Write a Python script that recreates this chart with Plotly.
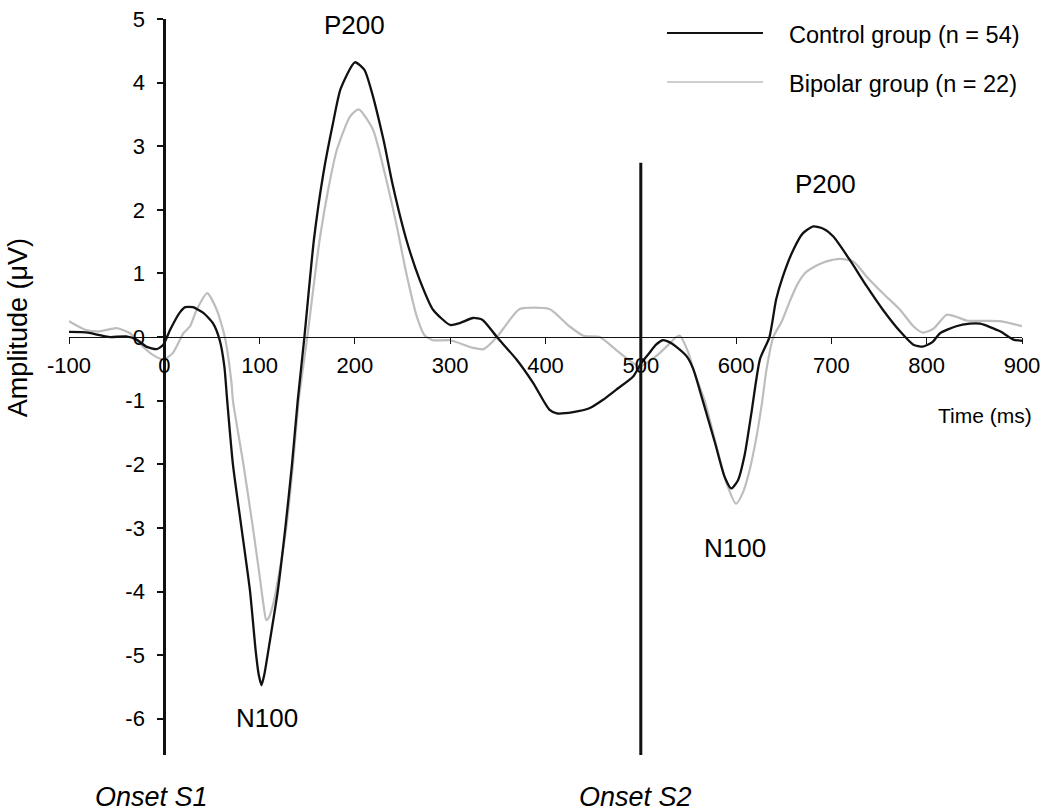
import plotly.graph_objects as go

# ---- data ----
t_control = [-100, -80, -68, -57, -40, -29, -19, -8, -1, 6, 16, 22, 30, 41, 51, 58, 63, 66, 72, 81,
             90, 96, 99, 102, 105, 110, 119, 127, 134, 140, 147, 157, 167, 177, 185, 200, 210, 217, 230,
             240, 254, 268, 282, 300, 310, 324, 334, 349, 370, 387, 404, 412, 429, 446, 460, 474,
             492, 500, 509, 516, 523, 530, 537, 548, 555, 565, 578, 588, 595, 602, 609, 616, 625,
             635, 642, 649, 660, 670, 681, 692, 702, 719, 737, 754, 772, 786, 796, 806, 814, 831,
             845, 856, 877, 891, 900]
v_control = [0.08, 0.07, 0.03, 0.0, 0.01, -0.04, -0.15, -0.19, -0.12, 0.11, 0.38, 0.47, 0.47, 0.38,
             0.22, -0.04, -0.46, -1.0, -2.0, -3.0, -4.0, -4.95, -5.3, -5.47, -5.3, -4.85, -4.0, -3.0, -2.0,
             -1.0, 0.0, 1.53, 2.58, 3.36, 3.9, 4.32, 4.2, 3.89, 3.1, 2.37, 1.53, 0.9, 0.43, 0.19,
             0.22, 0.30, 0.27, 0.0, -0.36, -0.72, -1.14, -1.2, -1.18, -1.12, -0.99, -0.83, -0.62,
             -0.42, -0.25, -0.12, -0.05, -0.08, -0.15, -0.3, -0.5, -1.0, -1.67, -2.2, -2.38, -2.25,
             -1.85, -1.2, -0.35, 0.0, 0.59, 0.95, 1.37, 1.63, 1.74, 1.7, 1.58, 1.22, 0.8, 0.43,
             0.09, -0.12, -0.15, -0.08, 0.06, 0.17, 0.21, 0.21, 0.09, -0.04, -0.06]

t_bipolar = [-100, -82, -68, -50, -36, -26, -12, -1, 9, 20, 27, 34, 45, 55, 63.5, 70.5, 72, 83, 93,
             100, 104, 107, 110, 115, 120, 124, 128, 135, 141, 150, 163, 172, 181, 195, 204, 219, 233, 244,
             254, 265, 273, 282, 300, 324, 335, 349, 360, 373, 404, 425, 440, 457, 474, 492, 499,
             516, 527, 537, 541, 550, 555, 567, 580, 590, 600, 607, 614, 621, 627, 632, 639, 648,
             656, 664, 672, 684, 695, 709, 723, 737, 754, 772, 786, 796, 807, 821, 831, 842, 877,
             900]
v_bipolar = [0.25, 0.11, 0.09, 0.14, 0.06, -0.1, -0.28, -0.35, -0.25, 0.06, 0.17, 0.43, 0.69, 0.43,
             0.0, -0.72, -1.0, -2.0, -3.0, -3.75, -4.2, -4.45, -4.4, -4.15, -3.75, -3.4, -3.0, -2.0, -1.0, 0.0,
             1.53, 2.32, 2.94, 3.47, 3.58, 3.26, 2.47, 1.74, 1.0, 0.32, 0.03, -0.05, -0.05, -0.17,
             -0.19, 0.0, 0.22, 0.44, 0.44, 0.17, 0.02, 0.0, -0.2, -0.41, -0.46, -0.3, -0.15, 0.0,
             0.02, -0.25, -0.5, -1.0, -1.75, -2.3, -2.62, -2.45, -2.1, -1.6, -1.05, -0.5, 0.0, 0.25,
             0.55, 0.82, 1.0, 1.12, 1.19, 1.23, 1.19, 0.95, 0.69, 0.43, 0.17, 0.07, 0.13, 0.35,
             0.32, 0.26, 0.25, 0.17]

series_names = ["Control group (n = 54)", "Bipolar group (n = 22)"]
x_ticks = list(range(-100, 901, 100))
y_ticks = list(range(-6, 6))
x_range = [-100, 900]
y_range = [-6.57, 5]
onsets = [0, 500]
onset_labels = ["Onset S1", "Onset S2"]
onset_tops = [5, 2.74]
peak_labels = ["P200", "N100", "P200", "N100"]
peak_x = [200, 108, 694, 599]
peak_y = [4.91, -5.99, 2.4, -3.31]

FONT = "Liberation Sans, Arial, sans-serif"
BLACK = "#111111"
GRAY = "#bdbdbd"

fig = go.Figure()
fig.add_trace(go.Scatter(x=t_bipolar, y=v_bipolar, mode="lines", name=series_names[1],
                         line=dict(color=GRAY, width=2.2, shape="spline", smoothing=0.6),
                         showlegend=False))
fig.add_trace(go.Scatter(x=t_control, y=v_control, mode="lines", name=series_names[0],
                         line=dict(color=BLACK, width=2.3, shape="spline", smoothing=0.6),
                         showlegend=False))

x_pos = (0 - x_range[0]) / (x_range[1] - x_range[0])
y_pos = (0 - y_range[0]) / (y_range[1] - y_range[0])

fig.update_layout(
    width=1050, height=812,
    margin=dict(l=69, r=28, t=19, b=57, autoexpand=False),
    paper_bgcolor="white", plot_bgcolor="white",
    font=dict(family=FONT, color="black", size=22),
    xaxis=dict(range=x_range, tickvals=x_ticks, ticktext=[str(v) for v in x_ticks],
               showgrid=False, zeroline=False, showline=True, linecolor=BLACK, linewidth=1.4,
               ticks="outside", ticklen=6, tickwidth=1.4, tickcolor=BLACK,
               anchor="free", position=y_pos, tickfont=dict(size=22),
               ticklabelstandoff=2, automargin=False),
    yaxis=dict(range=y_range, tickvals=y_ticks, ticktext=[str(v) for v in y_ticks],
               showgrid=False, zeroline=False, showline=True, linecolor=BLACK, linewidth=3,
               ticks="outside", ticklen=6, tickwidth=1.5, tickcolor=BLACK,
               anchor="free", position=x_pos, tickfont=dict(size=22),
               ticklabelstandoff=8, automargin=False),
)

# onset S2 vertical line (onset S1 coincides with y axis)
fig.add_shape(type="line", xref="x", yref="y", x0=onsets[1], x1=onsets[1],
              y0=y_range[0], y1=onset_tops[1], line=dict(color=BLACK, width=3))

for lab, x, y in zip(peak_labels, peak_x, peak_y):
    fig.add_annotation(x=x, y=y, xref="x", yref="y", text=lab, showarrow=False,
                       font=dict(size=26, family=FONT), xanchor="center", yanchor="middle")

onset_label_shift = [-13, -6]
for lab, x, dx in zip(onset_labels, onsets, onset_label_shift):
    fig.add_annotation(x=x + dx, y=-0.057, xref="x", yref="paper", text=f"<i>{lab}</i>",
                       showarrow=False, font=dict(size=27, family=FONT),
                       xanchor="center", yanchor="middle")

fig.add_annotation(x=861, y=-1.24, xref="x", yref="y", text="Time (ms)", showarrow=False,
                   font=dict(size=21, family=FONT), xanchor="center", yanchor="middle")
fig.add_annotation(x=-0.0535, y=0.58, xref="paper", yref="paper", text="Amplitude (\u03bcV)",
                   textangle=-90, showarrow=False, font=dict(size=27, family=FONT),
                   xanchor="center", yanchor="middle")

# manual legend
leg_y = [0.981, 0.9144]
leg_colors = [BLACK, "#cfcfcf"]
for name, ly, col in zip(series_names, leg_y, leg_colors):
    fig.add_shape(type="line", xref="paper", yref="paper", x0=0.6275, x1=0.7282, y0=ly, y1=ly,
                  line=dict(color=col, width=2))
    fig.add_annotation(x=0.7534, y=ly - 0.003, xref="paper", yref="paper", text=name,
                       showarrow=False, font=dict(size=23.5, family=FONT),
                       xanchor="left", yanchor="middle")

fig.write_html("out.html", config={"displayModeBar": False},
               post_script="document.body.style.margin='0';document.body.style.overflow='hidden';")
